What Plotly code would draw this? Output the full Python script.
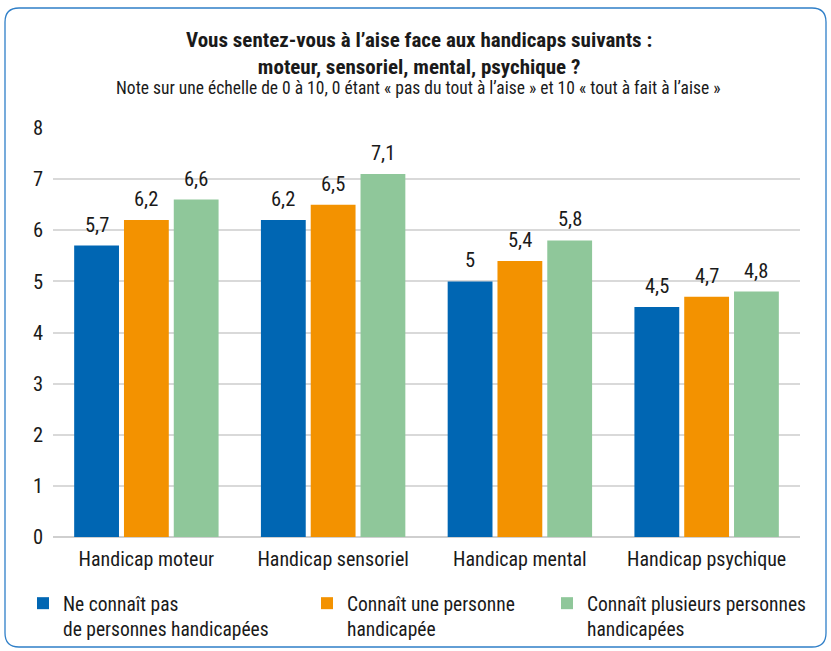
import plotly.graph_objects as go

categories = ["Handicap moteur", "Handicap sensoriel", "Handicap mental", "Handicap psychique"]
series_names = ["Ne connaît pas<br>de personnes handicapées",
                "Connaît une personne<br>handicapée",
                "Connaît plusieurs personnes<br>handicapées"]
vals_none = [5.7, 6.2, 5.0, 4.5]
vals_one = [6.2, 6.5, 5.4, 4.7]
vals_many = [6.6, 7.1, 5.8, 4.8]
colors = ["#0066B3", "#F39200", "#8FC79A"]
y_ticks = [0, 1, 2, 3, 4, 5, 6, 7, 8]

FONT = "Liberation Sans Narrow, Roboto Condensed, Arial Narrow, Roboto, sans-serif"
TXT = "#1a1a1a"

W, H = 831, 651
ml, mr, mt, mb = 53, 31, 128, 114
bargap, bargroupgap = 0.2, 0.1

fig = go.Figure()
all_vals = [vals_none, vals_one, vals_many]
legend_ids = ["legend", "legend2", "legend3"]
for j, (name, vals, col) in enumerate(zip(series_names, all_vals, colors)):
    fig.add_trace(go.Bar(x=categories, y=vals, name=name, marker_color=col,
                         marker_line_width=0, legend=legend_ids[j]))

def fmt(v):
    return ("%g" % v).replace(".", ",")

ann = []
slot = (1 - bargap) / 3
for j, vals in enumerate(all_vals):
    for i, v in enumerate(vals):
        ann.append(dict(x=i + (j - 1) * slot, y=v, xref="x", yref="y", text=fmt(v),
                        showarrow=False, yanchor="middle", yshift=21,
                        font=dict(family=FONT, size=20.5, color=TXT)))

pw = W - ml - mr
ph = H - mt - mb
def px_x(p):
    return (p - ml) / pw
def px_y(p):
    return (H - mb - p) / ph

# titles
ann.append(dict(x=px_x(419), y=px_y(53), xref="paper", yref="paper",
                text="<b>Vous sentez-vous à l’aise face aux handicaps suivants :<br>moteur, sensoriel, mental, psychique ?</b>",
                showarrow=False, xanchor="center", yanchor="middle",
                font=dict(family=FONT, size=21, color=TXT)))
ann.append(dict(x=px_x(418), y=px_y(88), xref="paper", yref="paper",
                text="Note sur une échelle de 0 à 10, 0 étant « pas du tout à l’aise » et 10 « tout à fait à l’aise »",
                showarrow=False, xanchor="center", yanchor="middle",
                font=dict(family=FONT, size=17.5, color=TXT)))

# rounded border
x0, x1 = px_x(5), px_x(826)
y0, y1 = px_y(647), px_y(8)
rx, ry = 14 / pw, 14 / ph
path = (f"M {x0+rx},{y1} L {x1-rx},{y1} Q {x1},{y1} {x1},{y1-ry} "
        f"L {x1},{y0+ry} Q {x1},{y0} {x1-rx},{y0} L {x0+rx},{y0} "
        f"Q {x0},{y0} {x0},{y0+ry} L {x0},{y1-ry} Q {x0},{y1} {x0+rx},{y1} Z")

leg_common = dict(orientation="h", xanchor="left", yanchor="top", y=px_y(584),
                  font=dict(family=FONT, size=19.5, color=TXT), valign="top",
                  bgcolor="rgba(0,0,0,0)", itemwidth=30)

fig.update_layout(
    width=W, height=H,
    margin=dict(l=ml, r=mr, t=mt, b=mb, autoexpand=False),
    paper_bgcolor="white", plot_bgcolor="white",
    barmode="group", bargap=bargap, bargroupgap=bargroupgap,
    separators=", ",
    showlegend=True,
    legend=dict(x=px_x(23), **leg_common),
    legend2=dict(x=px_x(307), **leg_common),
    legend3=dict(x=px_x(547), **leg_common),
    annotations=ann,
    shapes=[dict(type="path", path=path, xref="paper", yref="paper",
                 line=dict(color="#2F7FC8", width=1.3), fillcolor="rgba(0,0,0,0)")],
    xaxis=dict(showline=False, ticks="", showgrid=False, ticklabelstandoff=8,
               tickfont=dict(family=FONT, size=20, color=TXT)),
    yaxis=dict(range=[0, 8], tickvals=y_ticks, showgrid=True, gridcolor="#D9D9D9",
               gridwidth=1.6, zeroline=True, zerolinecolor="#CFCFCF", zerolinewidth=2,
               showline=False, ticks="", ticklabelstandoff=9,
               tickfont=dict(family=FONT, size=20.5, color=TXT)),
)

fig.write_html("out.html")
